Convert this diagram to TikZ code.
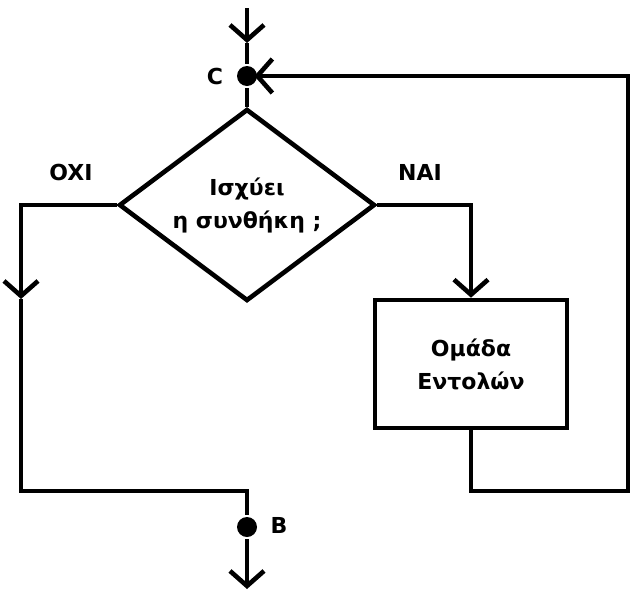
\documentclass[tikz,border=0pt]{standalone}
\usepackage{fontspec}
\setmainfont{DejaVu Sans}
\usetikzlibrary{arrows.meta,shapes.geometric}
\begin{document}
\begin{tikzpicture}[x=1pt,y=-1pt,line width=4.6pt,
  lbl/.style={font=\bfseries\fontsize{22}{33}\selectfont,inner sep=0pt},
  barb/.style={-{Straight Barb[length=15pt,width=34pt,line width=4.6pt]}},
  dotnode/.style={circle,fill=black,draw=none,minimum size=20pt,inner sep=0pt}]
\useasboundingbox (0,0) rectangle (631,592);
% nodes
\coordinate (top) at (247,8);
\coordinate (a1) at (247,43);
\node[dotnode] (C) at (247,76) {};
\node[draw,diamond,minimum width=256pt,minimum height=192pt,inner sep=0pt,aspect=1.333,
  lbl,align=center] (D) at (247,205) {Ισχύει\\η συνθήκη ;};
\node[draw,minimum width=192pt,minimum height=128pt,lbl,align=center] (box) at (471,364) {Ομάδα\\Εντολών};
\coordinate (L1) at (21,205);
\coordinate (L2) at (21,299);
\coordinate (L3) at (21,491);
\coordinate (J) at (247,491);
\node[dotnode] (B) at (247,527) {};
\coordinate (bot) at (247,589);
\coordinate (R1) at (471,205);
\coordinate (R2) at (471,491);
\coordinate (R3) at (628,491);
\coordinate (R4) at (628,76);
% labels
\node[lbl] (lC) at (215,76) {C};
\node[lbl] (lB) at (279,525) {B};
\node[lbl] (lno) at (71,172) {OXI};
\node[lbl] (lyes) at (420,172) {NAI};
% connectors
\draw[barb] (top) -- (a1);
\draw (a1) -- (C);
\draw (C) -- (D.north);
\draw[barb] (D.west) -- (L1) -- (L2);
\draw (L2) -- (L3) -- (J) -- (B);
\draw[barb] (B) -- (bot);
\draw[barb] (D.east) -- (R1) -- (box.north);
\draw[barb,shorten >=-5pt] (box.south) -- (R2) -- (R3) -- (R4) -- (C);
\end{tikzpicture}
\end{document}
